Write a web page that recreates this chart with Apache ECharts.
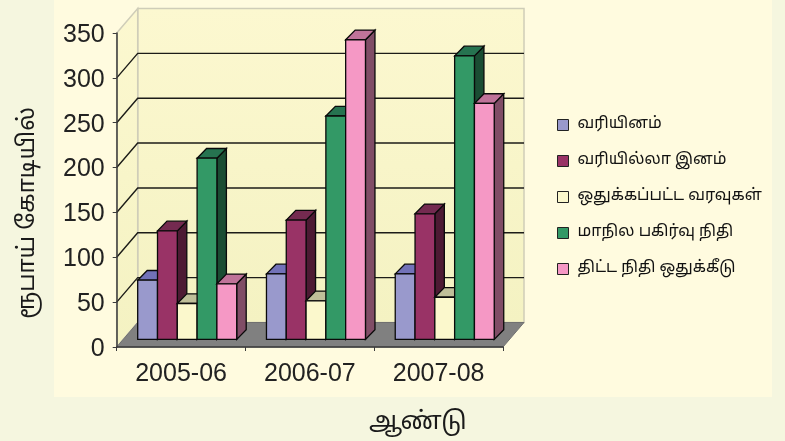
<!DOCTYPE html>
<html>
<head>
<meta charset="utf-8">
<style>
  html, body { margin: 0; padding: 0; background: #f5f6df; }
  #panel { position: absolute; left: 54px; top: 0; width: 718px; height: 397px; background: #fffbdf; }
  #chart { position: absolute; left: 0; top: 0; width: 785px; height: 441px; filter: blur(0.5px); }
</style>
<script src="https://cdn.jsdelivr.net/npm/echarts@6/dist/echarts.min.js"></script>
</head>
<body>
<div id="panel"></div>
<div id="chart"></div>
<script>
const categories = ['2005-06', '2006-07', '2007-08']
const yTicks = [50, 100, 150, 200, 250, 300]
const seriesNames = ['வரியினம்', 'வரியில்லா இனம்', 'ஒதுக்கப்பட்ட வரவுகள்', 'மாநில பகிர்வு நிதி', 'திட்ட நிதி ஒதுக்கீடு']
const revenueTax = [66, 73, 73]
const revenueNonTax = [121, 133, 140]
const earmarked = [40, 43, 47]
const stateShare = [202, 249, 316]
const planFund = [62, 334, 263]
const seriesValues = [revenueTax, revenueNonTax, earmarked, stateShare, planFund]
const faceColors = ['#9999cc', '#993366', '#fbf8cc', '#339966', '#f598c5']
const topColors = ['#7272b8', '#742a50', '#bfbf99', '#267350', '#bf7399']
const sideColors = ['#4f4f88', '#4d1a33', '#8f8f70', '#1a4d33', '#804d66']

const FONT = '"Liberation Sans", Arial, sans-serif'
const TAMIL_FONT = '"Noto Sans Tamil", "Lohit Tamil", "Noto Sans", "DejaVu Sans", sans-serif'
// oblique depth of the whole plot and of one bar, in px
const WALL_DX = 21
const WALL_DY = 24.5
const BAR_DX = 9.5
const BAR_DY = 9.7
const BAR_FRONT_DX = 7
const BAR_FRONT_DY = 7.6
const BAR_W = 19.8
const BAR_START = 14

function poly(points, fill, stroke, lineWidth) {
  return { type: 'polygon', shape: { points }, style: { fill, stroke: stroke || null, lineWidth: lineWidth || 1 } }
}

function renderWalls(params, api) {
  const cs = params.coordSys
  const x0 = cs.x
  const x1 = cs.x + cs.width
  const yb = api.coord([0, 0])[1]
  const yt = api.coord([0, 350])[1]
  const grad = new echarts.graphic.LinearGradient(0, 0, 0, 1, [
    { offset: 0, color: '#fcf8d0' },
    { offset: 1, color: '#f4f2c2' },
  ])
  const edge = '#cfcdb8'
  return {
    type: 'group',
    children: [
      poly([[x0 + WALL_DX, yt - WALL_DY], [x1 + WALL_DX, yt - WALL_DY], [x1 + WALL_DX, yb - WALL_DY], [x0 + WALL_DX, yb - WALL_DY]], grad, edge, 1.5),
      poly([[x0, yt], [x0 + WALL_DX, yt - WALL_DY], [x0 + WALL_DX, yb - WALL_DY], [x0, yb]], grad, edge, 1.5),
      poly([[x0, yb], [x0 + WALL_DX, yb - WALL_DY], [x1 + WALL_DX, yb - WALL_DY], [x1, yb]], '#808080', '#707070', 1),
    ],
  }
}

function renderGridLine(params, api) {
  const cs = params.coordSys
  const y = api.coord([0, api.value(1)])[1]
  const x0 = cs.x
  const x1 = cs.x + cs.width
  return {
    type: 'polyline',
    shape: { points: [[x0, y], [x0 + WALL_DX, y - WALL_DY], [x1 + WALL_DX, y - WALL_DY]] },
    style: { fill: null, stroke: '#1c1c18', lineWidth: 1.4 },
  }
}

function makeBarRenderer(s) {
  return function (params, api) {
    const top = api.coord([api.value(0), api.value(1)])
    const base = api.coord([api.value(0), 0])
    const band = api.size([1, 0])[0]
    const l = top[0] - band / 2 + BAR_START + BAR_FRONT_DX + s * BAR_W
    const r = l + BAR_W
    const t = top[1] - BAR_FRONT_DY
    const b = base[1] - BAR_FRONT_DY
    const ink = '#0a0a0a'
    return {
      type: 'group',
      children: [
        poly([[r, t], [r + BAR_DX, t - BAR_DY], [r + BAR_DX, b - BAR_DY], [r, b]], sideColors[s], ink, 1.3),
        poly([[l, t], [l + BAR_DX, t - BAR_DY], [r + BAR_DX, t - BAR_DY], [r, t]], topColors[s], ink, 1.3),
        poly([[l, t], [r, t], [r, b], [l, b]], faceColors[s], ink, 1.3),
      ],
    }
  }
}

const bars = seriesNames.map((name, s) => ({
  name,
  type: 'custom',
  renderItem: makeBarRenderer(s),
  encode: { x: 0, y: 1 },
  itemStyle: { color: faceColors[s] },
  data: seriesValues[s].map((v, i) => [i, v]),
  z: 5 + s,
}))

const chart = echarts.init(document.getElementById('chart'))
chart.setOption({
  animation: false,
  backgroundColor: 'transparent',
  grid: { left: 116.7, right: 282, top: 33, bottom: 94 },
  legend: {
    orient: 'vertical',
    left: 557,
    top: 117,
    padding: 0,
    data: seriesNames,
    icon: 'rect',
    itemWidth: 11,
    itemHeight: 11,
    itemGap: 20,
    itemStyle: { borderColor: '#222', borderWidth: 1 },
    textStyle: { color: '#111', fontSize: 16, fontFamily: TAMIL_FONT, padding: [4, 0, 0, 4] },
  },
  xAxis: {
    type: 'category',
    data: categories,
    axisLine: { lineStyle: { color: '#3a3a3a', width: 1.5 } },
    axisTick: { show: true, length: 4, lineStyle: { color: '#3a3a3a' } },
    axisLabel: { color: '#222', fontSize: 25, fontFamily: FONT, margin: 15 },
    z: 20,
  },
  yAxis: {
    type: 'value',
    min: 0,
    max: 350,
    interval: 50,
    axisLine: { show: true, lineStyle: { color: '#3a3a3a', width: 1.5 } },
    axisTick: { show: true, length: 4, lineStyle: { color: '#3a3a3a' } },
    axisLabel: { color: '#222', fontSize: 25, fontFamily: FONT, margin: 12, verticalAlign: 'top', lineHeight: 4 },
    splitLine: { show: false },
    z: 20,
  },
  graphic: [
    { type: 'text', left: 17, top: 107, rotation: Math.PI / 2, originX: 0, originY: 0,
      style: { text: 'ரூபாய் கோடியில்', fill: '#1a1a1a', fontSize: 23.5, fontFamily: TAMIL_FONT } },
    { type: 'text', left: 369, top: 411,
      style: { text: 'ஆண்டு', fill: '#1a1a1a', fontSize: 25, fontFamily: TAMIL_FONT } },
  ],
  series: [
    { type: 'custom', name: 'walls', renderItem: renderWalls, encode: { x: 0, y: 1 }, data: [[0, 350]], z: 1 },
    { type: 'custom', name: 'gridlines', renderItem: renderGridLine, encode: { x: 0, y: 1 }, data: yTicks.map(v => [0, v]), z: 2 },
    ...bars,
  ],
})
</script>
</body>
</html>
